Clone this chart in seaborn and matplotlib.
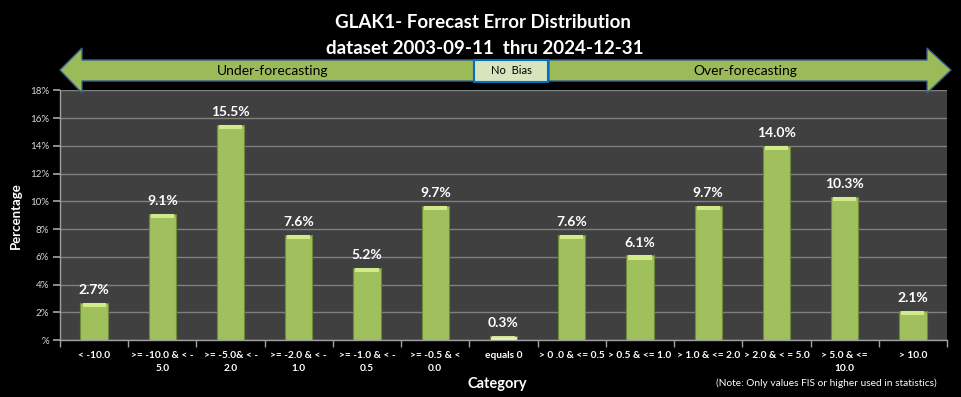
import numpy as np
import pandas as pd
import seaborn as sns
import matplotlib.pyplot as plt
from matplotlib.patches import Polygon, Rectangle
from matplotlib.ticker import FuncFormatter

# categories (forecast error bins) and share of cases in each, in percent
categories = [
    "< -10.0", ">= -10.0 & < -\n5.0", ">= -5.0& < -\n2.0", ">= -2.0 & < -\n1.0",
    ">= -1.0 & < -\n0.5", ">= -0.5 & <\n0.0", "equals 0", "> 0 .0 & <= 0.5",
    "> 0.5 & <= 1.0", "> 1.0 & <= 2.0", "> 2.0 & < = 5.0", "> 5.0 & <=\n10.0",
    "> 10.0",
]
percent = [2.7, 9.1, 15.5, 7.6, 5.2, 9.7, 0.3, 7.6, 6.1, 9.7, 14.0, 10.3, 2.1]
yticks = [0, 2, 4, 6, 8, 10, 12, 14, 16, 18]

df = pd.DataFrame({"Category": categories, "Percentage": percent})

sns.set_theme(style="dark")
plt.rcParams['font.family'] = ['Lato', 'DejaVu Sans']

green = "#9fc05c"
bar_colors = [green] * len(categories)
bar_colors[categories.index("equals 0")] = "#e6ecd6"

fig = plt.figure(figsize=(9.61, 3.97), dpi=100, facecolor="black")
ax = fig.add_axes([60 / 961, 1 - 340 / 397, 887 / 961, 249.5 / 397])
ax.set_facecolor("#404040")

sns.barplot(data=df, x="Category", y="Percentage", hue="Category",
            palette=bar_colors, legend=False, width=0.4, saturation=1,
            edgecolor="#6f8a3a", linewidth=0.8, ax=ax, zorder=3)

# light bevel along the top of each bar
for p in ax.patches:
    top = p.get_y() + p.get_height()
    d = min(0.3, p.get_height() * 0.4)
    ax.add_patch(Rectangle((p.get_x() + 0.03, top - d), p.get_width() - 0.06, d,
                           facecolor="#d2ea8a", edgecolor="none", zorder=4))

for cont in ax.containers:
    ax.bar_label(cont, fmt="%.1f%%", padding=5, color="white",
                 fontsize=10, fontweight="bold")

ax.set_ylim(0, 18)
ax.set_xlim(-0.5, len(categories) - 0.5)
ax.set_yticks(yticks)
ax.yaxis.set_major_formatter(FuncFormatter(lambda v, p: "%" if v == 0 else f"{v:.0f}%"))
ax.grid(axis="y", color="#808080", lw=1, zorder=0)
ax.grid(axis="x", visible=False)

ax.set_xticks(np.arange(len(categories)))
ax.set_xticklabels(categories, fontsize=7.3, fontweight="bold", color="white",
                   linespacing=1.5)
ax.set_xticks(np.arange(len(categories) + 1) - 0.5, minor=True)
ax.tick_params(axis="x", which="major", length=0, pad=8)
ax.tick_params(axis="x", which="minor", length=5, color="#a0a0a0", bottom=True)
ax.tick_params(axis="y", length=5, color="#a0a0a0", labelsize=7,
               labelcolor="#d9d9d9", left=True, pad=3)

for s in ["top", "right"]:
    ax.spines[s].set_visible(False)
for s in ["left", "bottom"]:
    ax.spines[s].set_color("#a0a0a0")
    ax.spines[s].set_linewidth(1)

ax.set_xlabel("")
ax.set_ylabel("Percentage", color="white", fontsize=9.5, fontweight="bold", labelpad=6)

fig.text(497 / 961, 1 - 384 / 397, "Category", color="white", fontsize=10.5,
         fontweight="bold", ha="center", va="center")
fig.text(826 / 961, 1 - 383 / 397,
         "(Note: Only values FIS or higher used in statistics)",
         color="white", fontsize=7.3, ha="center", va="center")

fig.text(483 / 961, 1 - 23 / 397, "GLAK1- Forecast Error Distribution",
         color="white", fontsize=13.5, fontweight="bold", ha="center", va="center")
fig.text(485 / 961, 1 - 48 / 397, "dataset 2003-09-11  thru 2024-12-31",
         color="white", fontsize=13.5, fontweight="bold", ha="center", va="center")

# overlay in pixel coordinates for the bias arrows
ov = fig.add_axes([0, 0, 1, 1], facecolor="none")
ov.set_xlim(0, 961)
ov.set_ylim(397, 0)
ov.axis("off")

left_arrow = [(60, 70), (82, 48), (82, 60), (474, 60), (474, 81), (82, 81), (82, 93)]
right_arrow = [(549, 60), (927, 60), (927, 48), (951, 70), (927, 93), (927, 81), (549, 81)]
for pts in (left_arrow, right_arrow):
    ov.add_patch(Polygon(pts, closed=True, facecolor="#9bbb59", edgecolor="#3b5e8c", lw=1))
ov.add_patch(Rectangle((474, 60), 74, 21.5, facecolor="#d7e4bd", edgecolor="#0070c0", lw=1.5))

ov.text(273, 71, "Under-forecasting", fontsize=10, color="black", ha="center", va="center")
ov.text(511, 71, "No  Bias", fontsize=8, color="black", ha="center", va="center")
ov.text(745, 71, "Over-forecasting", fontsize=10, color="black", ha="center", va="center")

fig.savefig("out.png", dpi=100, facecolor="black")
